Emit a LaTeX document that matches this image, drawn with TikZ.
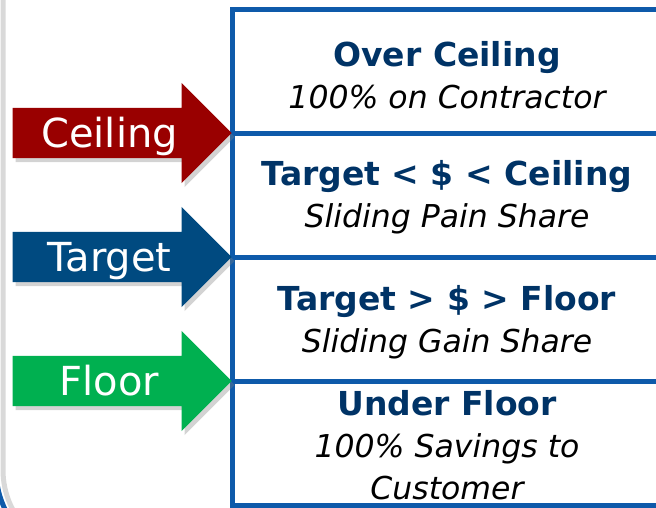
\documentclass[tikz,border=0pt]{standalone}
\usepackage{fontspec}
\setmainfont{DejaVu Sans}[BoldFont={DejaVu Sans Bold}, ItalicFont={DejaVu Sans Oblique}]
\usetikzlibrary{positioning,shapes.arrows,shadows}
\definecolor{edgeblue}{RGB}{14,90,170}
\definecolor{navy}{RGB}{0,51,102}
\definecolor{ceilred}{RGB}{153,0,0}
\definecolor{targblue}{RGB}{0,74,128}
\definecolor{floorgreen}{RGB}{0,176,80}
\newcommand\zonehead[1]{{\fontsize{33}{42}\selectfont\bfseries\upshape\color{navy}#1}}

\begin{document}
\begin{tikzpicture}[x=1pt, y=-1pt, node distance=0pt,
    row/.style = {draw=edgeblue, line width=5pt, minimum width=430pt, minimum height=124pt, outer sep=0pt, inner sep=0pt},
    zone/.style = {align=center, font=\fontsize{31.5}{42}\selectfont\itshape, inner sep=2pt},
    level/.style = {single arrow, single arrow head extend=25pt, minimum height=219pt, text height=29pt, text depth=0pt,
        inner ysep=10.5pt, inner xsep=0pt, text=white, font=\fontsize{40}{40}\selectfont,
        drop shadow={opacity=0.35, shadow xshift=3pt, shadow yshift=-4pt}}]
    \useasboundingbox (0,0) rectangle (656,507);
    % outer frame, only its left edge shows
    \draw[gray!30, line width=5pt, rounded corners=85pt] (3,-200) rectangle (760,555);
    \draw[edgeblue, line width=5pt, rounded corners=90pt] (-4,-200) rectangle (760,560);

    \node[row] (r1) at (447,71) {};
    \node[row, below=of r1] (r2) {};
    \node[row, below=of r2] (r3) {};
    \node[row, below=of r3] (r4) {};

    \node[zone] (l1) at ([yshift=-4pt]r1.center) {\zonehead{Over Ceiling}\\100\% on Contractor};
    \node[zone] (l2) at ([yshift=-2pt]r2.center) {\zonehead{Target < \$ < Ceiling}\\Sliding Pain Share};
    \node[zone] (l3) at ([yshift=-3pt]r3.center) {\zonehead{Target > \$ > Floor}\\Sliding Gain Share};
    \node[zone, anchor=north] (l4) at ([yshift=-7pt]r4.north) {\zonehead{Under Floor}\\100\% Savings to\\Customer};

    \node[level, fill=ceilred, anchor=tip] (ceiling) at (r1.south west) {Ceiling};
    \node[level, fill=targblue, anchor=tip] (target) at (r2.south west) {Target};
    \node[level, fill=floorgreen, anchor=tip] (floor) at (r3.south west) {Floor};
\end{tikzpicture}
\end{document}
